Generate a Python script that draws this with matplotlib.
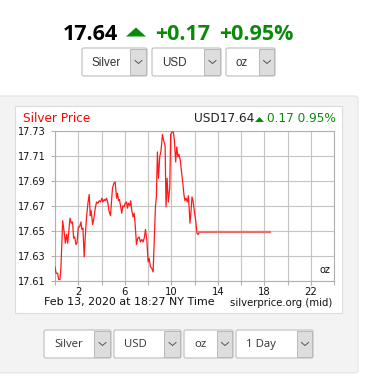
import matplotlib
matplotlib.use("Agg")
import matplotlib.pyplot as plt
from matplotlib.patches import Rectangle, FancyBboxPatch, Polygon

# ---- data ----
hours = [0.00, 0.09, 0.23, 0.31, 0.43, 0.51, 0.66, 0.80, 0.89, 1.00, 1.09, 1.17, 1.29, 1.40,
         1.51, 1.60, 1.69, 1.80, 1.89, 2.00, 2.11, 2.23, 2.31, 2.40, 2.51, 2.60, 2.71, 2.83,
         2.94, 3.03, 3.11, 3.23, 3.31, 3.46, 3.57, 3.69, 3.80, 3.91, 4.03, 4.11, 4.23, 4.31,
         4.43, 4.54, 4.66, 4.77, 4.86, 4.94, 5.06, 5.17, 5.29, 5.37, 5.46, 5.54, 5.63, 5.74,
         5.83, 5.94, 6.03, 6.14, 6.23, 6.31, 6.43, 6.51, 6.60, 6.71, 6.80, 6.89, 7.00, 7.11,
         7.23, 7.34, 7.46, 7.57, 7.69, 7.77, 7.89, 8.00, 8.09, 8.20, 8.31, 8.43, 8.54, 8.63,
         8.71, 8.80, 8.89, 9.00, 9.11, 9.23, 9.34, 9.46, 9.54, 9.63, 9.74, 9.86, 9.94, 10.06,
         10.17, 10.26, 10.37, 10.46, 10.57, 10.66, 10.77, 10.86, 10.97, 11.09, 11.17, 11.26,
         11.37, 11.46, 11.54, 11.60, 11.69, 11.77, 11.86, 11.97, 12.09, 12.20, 12.29, 12.37]
prices = [17.621, 17.616, 17.616, 17.611, 17.611, 17.621, 17.658, 17.648, 17.640, 17.647,
          17.640, 17.648, 17.660, 17.656, 17.657, 17.644, 17.645, 17.639, 17.640, 17.653,
          17.653, 17.657, 17.651, 17.652, 17.629, 17.645, 17.661, 17.672, 17.679, 17.662,
          17.666, 17.655, 17.658, 17.668, 17.673, 17.672, 17.674, 17.673, 17.676, 17.673,
          17.675, 17.674, 17.676, 17.672, 17.665, 17.662, 17.674, 17.684, 17.688, 17.689,
          17.676, 17.680, 17.674, 17.675, 17.670, 17.664, 17.670, 17.669, 17.672, 17.673,
          17.668, 17.672, 17.670, 17.674, 17.666, 17.661, 17.664, 17.655, 17.639, 17.644,
          17.645, 17.641, 17.643, 17.641, 17.645, 17.651, 17.643, 17.625, 17.628, 17.621,
          17.620, 17.617, 17.645, 17.669, 17.677, 17.713, 17.692, 17.709, 17.714, 17.727,
          17.722, 17.718, 17.669, 17.692, 17.673, 17.684, 17.727, 17.729, 17.729, 17.722,
          17.705, 17.717, 17.709, 17.711, 17.706, 17.698, 17.689, 17.678, 17.674, 17.676,
          17.673, 17.678, 17.666, 17.656, 17.666, 17.677, 17.674, 17.666, 17.658, 17.648,
          17.647, 17.648]
flat_hours = [12.40, 18.50]
flat_prices = [17.649, 17.649]

y_ticks = [17.61, 17.63, 17.65, 17.67, 17.69, 17.71, 17.73]
x_grid = list(range(0, 25, 2))
x_labels = {2: "2", 6: "6", 10: "10", 14: "14", 18: "18", 22: "22"}

price_text = "17.64"
change_text = "+0.17"
pct_text = "+0.95%"
metal_opts = ["Silver", "USD", "oz"]
bottom_opts = ["Silver", "USD", "oz", "1 Day"]

W, H = 369, 378
fig = plt.figure(figsize=(W / 100, H / 100), dpi=100)
fig.patch.set_facecolor("white")

# overlay in pixel coordinates
ov = fig.add_axes([0, 0, 1, 1], zorder=0)
ov.set_xlim(0, W)
ov.set_ylim(H, 0)
ov.axis("off")

GREEN = "#0a8a0a"

# header
ov.text(63, 34, price_text, fontsize=15.5, fontweight="bold", family="Open Sans",
        color="black", ha="left", va="center")
ov.add_patch(Polygon([[126, 36.5], [146, 36.5], [136, 27.5]], closed=True, color=GREEN, lw=0))
ov.text(155, 34, change_text, fontsize=15.5, fontweight="bold", family="Open Sans",
        color=GREEN, ha="left", va="center")
ov.text(219, 34, pct_text, fontsize=15.5, fontweight="bold", family="Open Sans",
        color=GREEN, ha="left", va="center")


def dropdown(x0, x1, arrow_x, y0, y1, label, family, size):
    ov.add_patch(FancyBboxPatch((x0, y0), x1 - x0, y1 - y0,
                                boxstyle="round,pad=0,rounding_size=2",
                                fc="white", ec="#c4c4c4", lw=0.9))
    ov.add_patch(Rectangle((arrow_x, y0 + 1), x1 - arrow_x - 1, y1 - y0 - 2,
                           fc="#dddddd", ec="#b8b8b8", lw=0.7))
    cx = (arrow_x + x1) / 2
    cy = (y0 + y1) / 2
    ov.plot([cx - 3.5, cx, cx + 3.5], [cy - 1.5, cy + 1.5, cy - 1.5],
            color="#555555", lw=0.7)
    ov.text(x0 + 10, cy + 0.5, label, fontsize=size, family=family, color="#333333",
            ha="left", va="center")


top_boxes = [(82, 147, 130), (152, 221, 204), (226, 275, 259)]
for (a, b, c), lab in zip(top_boxes, metal_opts):
    dropdown(a, b, c, 48, 76, lab, "Liberation Sans", 8.4)

# gray panel
ov.add_patch(FancyBboxPatch((-6, 96), 364, 277, boxstyle="round,pad=0,rounding_size=3",
                            fc="#f3f3f3", ec="#e4e4e4", lw=0.8))
ov.add_patch(Rectangle((15, 106), 327, 207, fc="white", ec="#dcdcdc", lw=0.8))

bottom_boxes = [(44, 111, 94), (114, 181, 164), (184, 233, 217), (236, 313, 297)]
for (a, b, c), lab in zip(bottom_boxes, bottom_opts):
    dropdown(a, b, c, 330, 358, lab, "Open Sans", 8.2)

# chart texts
ov.text(23, 118.5, "Silver Price", fontsize=8.7, color="#ff0000", ha="left", va="center")
ov.text(336, 118.5, "0.17 0.95%", fontsize=8.7, color=GREEN, ha="right", va="center")
ov.add_patch(Polygon([[255, 122], [264, 122], [259.5, 117]], closed=True, color=GREEN, lw=0))
ov.text(254.5, 118.5, "USD17.64", fontsize=8.7, color="#222222", ha="right", va="center")
ov.text(44, 302.5, "Feb 13, 2020 at 18:27 NY Time", fontsize=7.9, color="#111111",
        ha="left", va="center")
ov.text(332, 302.5, "silverprice.org (mid)", fontsize=7.3, color="#111111",
        ha="right", va="center")

# chart axes
ax = fig.add_axes([55 / W, 1 - 280.7 / H, (334.3 - 55) / W, 150 / H], zorder=1)
ax.set_facecolor("white")
ax.plot(hours, prices, color="#ff1a1a", lw=0.9, zorder=3)
ax.plot(flat_hours, flat_prices, color="#f26b6b", lw=1.6, zorder=3)
ax.set_xlim(0, 24)
ax.set_ylim(17.61, 17.73)
ax.set_xticks(x_grid)
ax.set_xticklabels([x_labels.get(v, "") for v in x_grid])
ax.set_yticks(y_ticks)
ax.set_yticklabels([f"{v:.2f}" for v in y_ticks])
ax.grid(True, color="#c4c4c4", lw=0.8, zorder=0)
ax.set_axisbelow(True)
for s in ax.spines.values():
    s.set_color("#b0b0b0")
    s.set_linewidth(0.8)
ax.tick_params(axis="x", length=3, color="#b0b0b0", labelsize=7.2, pad=1.5, labelcolor="#111111")
ax.tick_params(axis="y", length=3, color="#b0b0b0", labelsize=7.0, pad=23.5, labelcolor="#111111")
for t in ax.get_yticklabels():
    t.set_ha("left")
ax.text(0.985, 0.04, "oz", transform=ax.transAxes, fontsize=7.0, color="#111111",
        ha="right", va="bottom")

fig.savefig("out.png", dpi=100)
